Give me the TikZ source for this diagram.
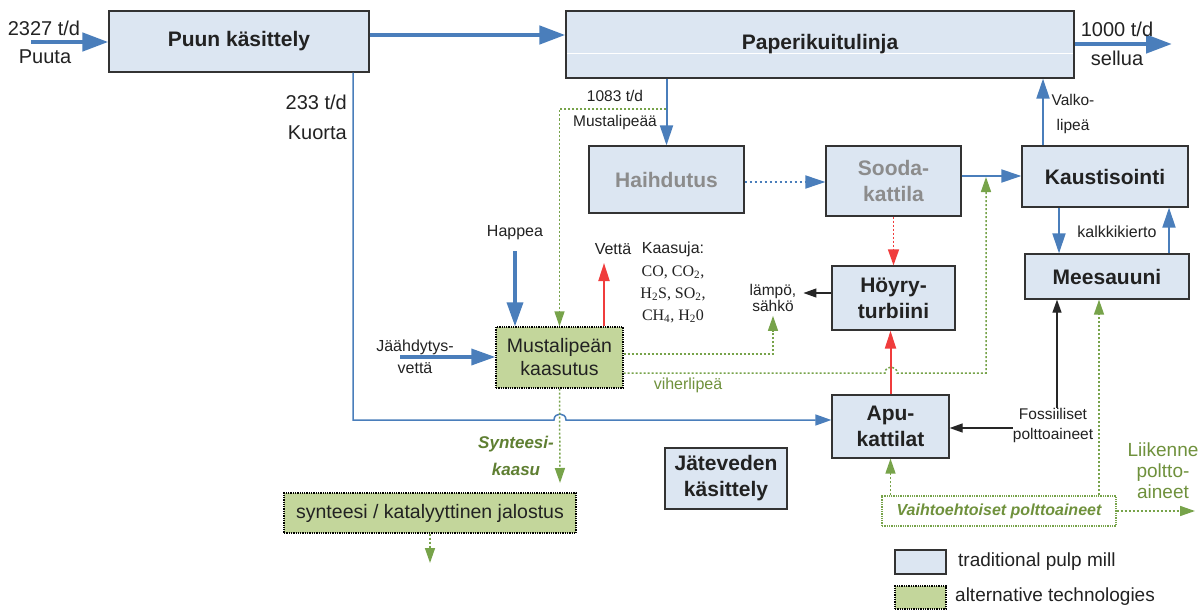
\documentclass[tikz,border=0pt]{standalone}
\usepackage{fontspec}
\setmainfont{Liberation Sans}
\newfontfamily\seriffont{Liberation Serif}
\usetikzlibrary{arrows.meta,calc}
\definecolor{boxblue}{HTML}{DCE6F2}
\definecolor{boxgreen}{HTML}{C3D69B}
\definecolor{flowblue}{HTML}{4A7EBB}
\definecolor{dotgreen}{HTML}{77A34A}
\definecolor{txtgreen}{HTML}{6F913C}
\definecolor{darkgreen}{HTML}{5F7F32}
\definecolor{flowred}{HTML}{F03C3C}
\definecolor{greytxt}{HTML}{8C8C8C}
\definecolor{boxborder}{HTML}{333333}
\definecolor{maintxt}{HTML}{222222}
\newcommand\fs[2]{\fontsize{#1}{#2}\selectfont}
\begin{document}
\begin{tikzpicture}[x=1pt,y=-1pt,
  tradbox/.style={draw=boxborder, line width=1.3pt, fill=boxblue, inner sep=0pt, align=center, font=\fs{21}{26}\bfseries, text=maintxt},
  altbox/.style={draw=black, line width=1.3pt, densely dotted, fill=boxgreen, inner sep=0pt, align=center, text=maintxt},
  lbl/.style={inner sep=0pt, align=center, text=maintxt},
  bigarrow/.style={draw=flowblue, line width=4.5pt, -{Triangle[length=26pt,width=18pt]}},
  thickarrow/.style={draw=flowblue, line width=3.5pt, -{Triangle[length=24pt,width=16pt]}},
  medarrow/.style={draw=flowblue, line width=2pt, -{Triangle[length=20pt,width=13pt]}},
  dotbluearrow/.style={draw=flowblue, line width=1.8pt, dash pattern=on 2.5pt off 2.5pt, -{Triangle[length=20pt,width=13pt]}},
  kuortaline/.style={draw=flowblue, line width=1.5pt, -{Triangle[length=16pt,width=11pt]}},
  redarrow/.style={draw=flowred, line width=2pt, -{Triangle[length=18pt,width=11pt]}},
  reddotarrow/.style={draw=flowred, line width=1.5pt, dash pattern=on 2pt off 2pt, -{Triangle[length=16pt,width=11pt]}},
  greenarrow/.style={draw=dotgreen, line width=1.5pt, dash pattern=on 2pt off 2pt, -{Triangle[length=15pt,width=10pt]}},
  blackarrow/.style={draw=black!85, line width=1.3pt, -{Triangle[length=13pt,width=9pt]}}
]
\fill[white] (0,0) rectangle (1200,610);
\useasboundingbox (0,0) rectangle (1200,610);

% boxes
\node[tradbox, minimum width=260pt, minimum height=61pt] (puun) at (239,41.5) {Puun käsittely};
\node[tradbox, minimum width=508pt, minimum height=67pt] (paperi) at (820,44.5) {};
\draw[white, line width=0.8pt] (567,53.5) -- (1073,53.5);
\node[lbl, font=\fs{21}{26}\bfseries] (paperitxt) at (paperi.center) {Paperikuitulinja};
\node[tradbox, minimum width=155pt, minimum height=67pt, text=greytxt] (haihd) at (666.5,179.5) {Haihdutus};
\node[tradbox, minimum width=135pt, minimum height=70pt, text=greytxt] (sooda) at (893.5,181) {Sooda-\\kattila};
\node[tradbox, minimum width=166pt, minimum height=61pt] (kaust) at (1105,176.5) {Kaustisointi};
\node[tradbox, minimum width=164pt, minimum height=45pt] (mees) at (1107,276.5) {Meesauuni};
\node[tradbox, minimum width=123pt, minimum height=64pt] (hoyry) at (893.5,298) {Höyry-\\turbiini};
\node[tradbox, minimum width=117pt, minimum height=63pt] (apu) at (890.5,426.5) {Apu-\\kattilat};
\node[tradbox, minimum width=122pt, minimum height=61pt] (jate) at (726,478.5) {Jäteveden\\käsittely};
\node[altbox, minimum width=127pt, minimum height=61pt, font=\fs{19.5}{23}] (mk) at (559.5,357.5) {Mustalipeän\\kaasutus};
\node[altbox, minimum width=292pt, minimum height=40pt, font=\fs{19.5}{23}] (synth) at (430,513) {synteesi / katalyyttinen jalostus};
\node[draw=dotgreen, densely dotted, line width=1.3pt, inner sep=0pt, minimum width=234pt, minimum height=30pt, font=\fs{16}{19}\bfseries\itshape, text=txtgreen] (vaihto) at (999,511) {Vaihtoehtoiset polttoaineet};

% top flows
\node[lbl, font=\fs{20}{24}] (t2327) at (44,28) {2327 t/d};
\node[lbl, font=\fs{20}{24}] (puuta) at (45,57) {Puuta};
\coordinate (inA) at (31,42);
\draw[bigarrow] (inA) -- (inA -| puun.west);
\coordinate (pp) at (0,35);
\draw[bigarrow] (puun.east |- pp) -- (paperi.west |- pp);
\coordinate (outA) at (1172,44);
\draw[bigarrow] (paperi.east |- outA) -- (outA);
\node[lbl, font=\fs{20}{24}] (t1000) at (1117,29) {1000 t/d};
\node[lbl, font=\fs{20}{24}] (sellua) at (1117,58) {sellua};

% kuorta
\node[lbl, font=\fs{20}{30}, align=right, anchor=east] (kuorta) at (347,117) {233 t/d\\Kuorta};
\coordinate (kc) at (353,420);
\draw[kuortaline] (puun.south -| kc) -- (kc) -- (554,420) .. controls (554,412) and (566,412) .. (566,420) -- (apu.west |- kc);

% mustalipea
\draw[medarrow] (paperi.south -| haihd.north) -- (haihd.north);
\node[lbl, font=\fs{15.5}{25}] (mlab) at (615,109.5) {1083 t/d\\Mustalipeää};
\coordinate (gs) at (666,109);
\draw[greenarrow] (gs) -- (gs -| mk.north) -- (mk.north);

% recovery line
\coordinate (hs) at (0,182);
\draw[dotbluearrow] (haihd.east |- hs) -- (sooda.west |- hs);
\coordinate (sk) at (0,176);
\draw[medarrow] (sooda.east |- sk) -- (kaust.west |- sk);
\coordinate (vx) at (1043,0);
\draw[medarrow] (kaust.north -| vx) -- (paperi.south -| vx);
\node[lbl, font=\fs{15.5}{25}] (valko) at (1073,114) {Valko-\\lipeä};
\coordinate (kx1) at (1059,0);
\coordinate (kx2) at (1169,0);
\draw[medarrow] (kaust.south -| kx1) -- (mees.north -| kx1);
\draw[medarrow] (mees.north -| kx2) -- (kaust.south -| kx2);
\node[lbl, font=\fs{16}{19}] (kalkki) at (1117,232) {kalkkikierto};

% steam
\draw[reddotarrow] (sooda.south) -- (hoyry.north);
\draw[redarrow] (apu.north) -- (apu.north |- hoyry.south);
\node[lbl, font=\fs{15.5}{16}, inner xsep=7pt, inner ysep=4pt] (lampo) at (773,298) {lämpö,\\sähkö};
\coordinate (la) at (0,293);
\draw[blackarrow] (hoyry.west |- la) -- (lampo.east |- la);

% gasifier
\coordinate (gl) at (0,354);
\draw[greenarrow] (mk.east |- gl) -- (lampo.south |- gl) -- (lampo.south);
\coordinate (vl) at (0,373);
\coordinate (vtop) at (986,177);
\draw[greenarrow] (mk.east |- vl) -- (885,373) .. controls (885,365) and (897,365) .. (897,373) -- (vtop |- vl) -- (vtop);
\node[lbl, font=\fs{16}{19}, text=txtgreen] (viher) at (688,385) {viherlipeä};

\node[lbl, font=\fs{16}{19}] (happea) at (515,233) {Happea};
\coordinate (hp) at (515,251);
\draw[thickarrow] (hp) -- (hp |- mk.north);
\node[lbl, font=\fs{16}{22}] (jaahd) at (415,357) {Jäähdytys-\\vettä};
\coordinate (jw) at (400,357);
\draw[thickarrow] (jw) -- (jw -| mk.west);
\node[lbl, font=\fs{16}{19}] (vetta) at (613,249) {Vettä};
\coordinate (vt) at (604,263);
\draw[redarrow] (mk.north -| vt) -- (vt);
\node[lbl, font=\fs{16}{19}] (kaasuja) at (673,249) {Kaasuja:};
\node[lbl, font=\seriffont\fs{16}{22}] (kaasut) at (673,294) {CO, CO\textsubscript{2},\\H\textsubscript{2}S, SO\textsubscript{2},\\CH\textsubscript{4}, H\textsubscript{2}0};

% syngas
\coordinate (sgE) at (560,483);
\draw[greenarrow] (mk.south) -- (sgE);
\node[lbl, font=\fs{17}{27}\bfseries\itshape, text=darkgreen] (synlab) at (516,456) {Synteesi-\\kaasu};
\coordinate (sd) at (430,563);
\draw[greenarrow] (synth.south) -- (sd);

% fuels
\node[lbl, font=\fs{15.5}{20}] (fossil) at (1053,425) {Fossiiliset\\polttoaineet};
\coordinate (fa) at (0,428);
\draw[blackarrow] (fossil.west |- fa) -- (apu.east |- fa);
\coordinate (fx) at (1057,0);
\draw[blackarrow] (fossil.north -| fx) -- (mees.south -| fx);
\draw[greenarrow] (vaihto.north -| apu.south) -- (apu.south);
\coordinate (vm) at (1099,0);
\draw[greenarrow] (vaihto.north -| vm) -- (mees.south -| vm);
\coordinate (lk) at (1195,0);
\draw[greenarrow] (vaihto.east) -- (vaihto.east -| lk);
\node[lbl, font=\fs{19}{21}, text=txtgreen] (liik) at (1163,471) {Liikenne\\poltto-\\aineet};

% legend
\node[tradbox, minimum width=51pt, minimum height=24pt] (leg1) at (920.5,562) {};
\node[lbl, anchor=west, font=\fs{19}{22}] (leg1t) at (958,562) {traditional pulp mill};
\node[altbox, minimum width=51pt, minimum height=23pt] (leg2) at (920.5,597.5) {};
\node[lbl, anchor=west, font=\fs{19}{22}] (leg2t) at (955,597) {alternative technologies};
\end{tikzpicture}
\end{document}
